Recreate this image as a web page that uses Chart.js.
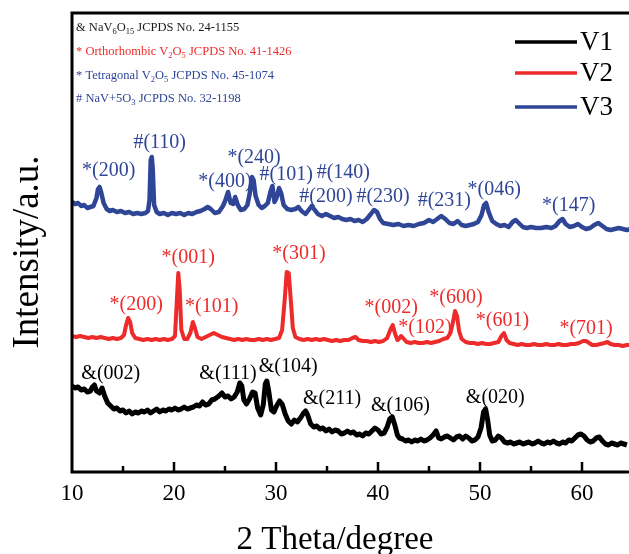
<!DOCTYPE html>
<html><head><meta charset="utf-8">
<script src="https://cdn.jsdelivr.net/npm/chart.js@4/dist/chart.umd.min.js"></script>
<style>
html,body{margin:0;padding:0;background:#fff;overflow:hidden;width:629px;height:554px}
#wrap{width:640px;height:554px;position:relative}
</style></head>
<body><div id="wrap"><canvas id="c" width="640" height="554"></canvas></div>
<script>
// ---------- data (2θ in degrees, intensity in a.u., series already offset) ----------
const v3Theta = [10.0,10.3,10.6,10.9,11.2,11.5,11.8,12.1,12.4,12.55,12.7,12.85,13.1,13.4,13.7,14.0,14.4,14.8,15.2,15.6,16.0,16.4,16.8,17.2,17.45,17.6,17.72,17.82,17.92,18.05,18.3,18.6,19.0,19.4,19.8,20.2,20.6,21.0,21.4,21.8,22.2,22.6,23.0,23.3,23.6,24.0,24.4,24.8,25.05,25.3,25.55,25.8,26.0,26.25,26.55,26.9,27.2,27.45,27.65,27.8,28.0,28.3,28.6,28.9,29.2,29.45,29.65,29.85,30.05,30.3,30.5,30.75,31.1,31.5,31.9,32.2,32.5,32.9,33.2,33.5,33.8,34.1,34.5,34.9,35.3,35.7,36.1,36.5,36.9,37.3,37.7,38.1,38.5,38.9,39.3,39.6,39.9,40.2,40.5,41.0,41.5,42.0,42.5,43.0,43.5,44.0,44.5,45.0,45.4,45.8,46.2,46.6,47.0,47.4,47.8,48.2,48.6,49.0,49.4,49.8,50.15,50.4,50.6,50.85,51.2,51.6,52.0,52.4,52.8,53.2,53.5,53.8,54.2,54.6,55.0,55.5,56.0,56.5,57.0,57.4,57.8,58.1,58.4,58.8,59.2,59.6,60.0,60.4,60.8,61.2,61.6,62.0,62.4,62.8,63.2,63.6,64.0,64.4,64.8,65.0];
const v3Intensity = [270,268,269,266,267,264,265,266,274,283,285,280,269,263,261,262,260,261,259,260,258,259,258,259,261,272,312,315,302,267,260,258,259,257,259,258,259,257,259,258,260,261,263,265,263,259,260,266,272,280,269,268,275,267,262,263,267,280,295,292,276,267,264,266,269,280,286,270,274,284,279,267,263,262,263,265,261,258,262,266,262,258,256,258,256,254,255,253,252,253,251,252,250,253,258,262,260,253,249,248,247,248,246,247,246,248,249,252,250,253,256,253,249,248,251,247,246,247,248,250,257,267,269,260,251,248,246,247,245,250,252,249,245,244,245,244,244,245,244,246,251,253,248,245,246,248,245,243,244,247,249,246,243,242,243,244,243,242,243,243];

const v2Theta = [10.0,10.4,10.8,11.2,11.6,12.0,12.4,12.8,13.2,13.6,14.0,14.4,14.8,15.1,15.3,15.5,15.7,15.9,16.2,16.6,17.0,17.4,17.8,18.2,18.6,19.0,19.4,19.8,20.1,20.28,20.42,20.56,20.72,21.0,21.3,21.6,21.85,22.05,22.3,22.7,23.1,23.5,23.9,24.3,24.7,25.1,25.5,25.9,26.3,26.7,27.1,27.5,27.9,28.3,28.7,29.1,29.5,29.9,30.3,30.6,30.85,31.05,31.25,31.45,31.65,31.9,32.3,32.7,33.1,33.5,33.9,34.3,34.7,35.1,35.5,35.9,36.3,36.7,37.1,37.5,37.8,38.1,38.5,38.9,39.3,39.7,40.1,40.5,40.9,41.2,41.45,41.65,41.9,42.05,42.25,42.45,42.8,43.2,43.6,44.0,44.4,44.8,45.2,45.6,46.0,46.4,46.8,47.1,47.35,47.55,47.75,47.95,48.2,48.6,49.0,49.4,49.8,50.2,50.6,51.0,51.4,51.8,52.1,52.35,52.6,52.9,53.3,53.7,54.1,54.5,54.9,55.3,55.7,56.1,56.5,56.9,57.3,57.7,58.1,58.5,58.9,59.3,59.7,60.1,60.4,60.7,61.0,61.4,61.8,62.2,62.5,62.8,63.2,63.6,64.0,64.4,64.8,65.0];
const v2Intensity = [136,135,136,135,134,135,134,135,134,133,134,133,134,137,147,154,150,139,134,133,132,133,132,133,132,133,132,133,136,172,199,182,142,133,133,139,150,144,135,133,135,137,139,137,135,134,133,132,133,132,133,132,132,133,132,133,132,133,134,142,172,200,199,172,144,135,133,132,133,132,133,132,133,132,131,132,131,132,132,134,135,132,131,131,130,131,130,131,134,142,147,139,132,133,136,134,130,129,130,129,129,130,129,130,131,133,134,139,150,161,156,141,133,130,129,129,128,129,128,128,129,130,136,139,132,129,128,127,128,127,127,128,127,127,128,127,127,128,127,127,128,128,129,131,131,129,127,127,128,129,130,128,127,127,126,127,127,127];

const v1Theta = [10.0,10.3,10.6,10.9,11.2,11.5,11.8,12.0,12.2,12.4,12.7,12.95,13.2,13.5,13.8,14.1,14.4,14.7,15.0,15.3,15.6,15.9,16.2,16.5,16.8,17.1,17.4,17.7,18.0,18.3,18.6,18.9,19.2,19.5,19.8,20.1,20.4,20.7,21.0,21.3,21.6,21.9,22.2,22.5,22.8,23.1,23.4,23.7,24.0,24.4,24.7,25.0,25.3,25.6,25.9,26.2,26.45,26.65,26.85,27.1,27.4,27.7,27.95,28.2,28.5,28.75,28.95,29.1,29.3,29.55,29.8,30.05,30.35,30.6,30.9,31.2,31.5,31.8,32.1,32.4,32.7,32.9,33.1,33.4,33.7,34.0,34.3,34.6,34.9,35.2,35.5,35.8,36.1,36.4,36.7,37.0,37.3,37.6,37.9,38.2,38.5,38.8,39.1,39.4,39.7,40.0,40.3,40.6,40.9,41.15,41.4,41.65,41.9,42.1,42.4,42.7,43.0,43.3,43.6,43.9,44.2,44.5,44.8,45.1,45.4,45.7,45.95,46.2,46.5,46.8,47.1,47.4,47.7,48.0,48.3,48.6,48.9,49.2,49.5,49.8,50.1,50.35,50.55,50.75,50.95,51.2,51.5,51.8,52.1,52.4,52.7,53.0,53.3,53.6,53.9,54.2,54.5,54.8,55.1,55.4,55.7,56.0,56.3,56.6,56.9,57.2,57.5,57.8,58.1,58.4,58.7,59.0,59.3,59.6,59.9,60.2,60.5,60.8,61.1,61.4,61.7,62.0,62.3,62.6,62.9,63.2,63.5,63.8,64.1,64.4,64.7,65.0];
const v1Intensity = [86,84,85,82,83,80,81,85,87,81,79,84,76,69,66,63,64,61,62,59,61,58,60,59,61,60,62,59,61,63,60,62,61,63,62,64,62,63,65,63,64,65,67,66,70,67,68,72,73,76,79,75,76,73,75,80,89,86,72,68,73,80,79,64,57,67,88,91,80,62,60,66,71,68,58,51,48,52,50,54,59,61,57,48,45,46,43,44,41,43,40,42,41,38,39,41,39,40,37,38,36,39,38,41,44,42,38,39,45,53,55,47,37,34,33,31,32,30,32,31,33,31,32,34,37,41,34,33,35,36,34,32,35,36,33,36,34,31,32,35,44,60,63,52,37,31,32,36,34,30,29,30,28,29,30,28,29,30,28,29,31,29,28,30,29,31,29,28,30,29,32,31,34,37,38,36,32,30,31,34,35,31,28,27,29,28,27,29,28,27];

const seriesNames = ['V1','V2','V3'];
const seriesColors = ['#000000','#ee2b2b','#2f4596'];

// peak labels
const v3LabelText = ['*(200)','#(110)','*(400)','*(240)','#(101)','#(140)','#(200)','#(230)','#(231)','*(046)','*(147)'];
const v3LabelTheta = [13.6,18.6,25.0,27.85,31.0,36.6,34.9,40.5,46.5,51.4,58.7];
const v3LabelIntensity = [301,329,290,314,297,299,275,275,271,282,266];

const v2LabelText = ['*(200)','*(001)','*(101)','*(301)','*(002)','*(102)','*(600)','*(601)','*(701)'];
const v2LabelTheta = [16.3,21.4,23.7,32.25,41.3,44.6,47.65,52.2,60.4];
const v2LabelIntensity = [167,214,165,218,164,144,174,151,143];

const v1LabelText = ['&(002)','&(111)','&(104)','&(211)','&(106)','&(020)'];
const v1LabelTheta = [13.8,25.3,31.2,35.5,42.2,51.5];
const v1LabelIntensity = [98,98,105,73,66,74];

// reference card notes: segments [text, subscript?]
const noteLines = [
  [['& NaV',0],['6',1],['O',0],['15',1],[' JCPDS No. 24-1155',0]],
  [['* Orthorhombic V',0],['2',1],['O',0],['5',1],[' JCPDS No. 41-1426',0]],
  [['* Tetragonal V',0],['2',1],['O',0],['5',1],[' JCPDS No. 45-1074',0]],
  [['# NaV+5O',0],['3',1],[' JCPDS No. 32-1198',0]]
];
const noteColors = ['#1a1a1a','#ee2b2b','#2f4596','#2f4596'];

const xTitle = '2 Theta/degree';
const yTitle = 'Intensity/a.u.';
const xTickValues = [10,20,30,40,50,60];

const SERIF = '"Liberation Serif","Times New Roman",serif';

function pts(xs, ys){ return xs.map((x,i)=>({x:x,y:ys[i]})); }

const overlay = {
  id:'overlay',
  afterDatasetsDraw(chart){
    const ctx = chart.ctx, xs = chart.scales.x, ys = chart.scales.y, a = chart.chartArea;
    ctx.save();
    // peak labels
    ctx.font = '20px ' + SERIF;
    ctx.textAlign = 'center'; ctx.textBaseline = 'middle';
    const groups = [[v1LabelText,v1LabelTheta,v1LabelIntensity,0],[v2LabelText,v2LabelTheta,v2LabelIntensity,1],[v3LabelText,v3LabelTheta,v3LabelIntensity,2]];
    groups.forEach(g=>{
      ctx.fillStyle = seriesColors[g[3]];
      g[0].forEach((t,i)=>ctx.fillText(t, xs.getPixelForValue(g[1][i]), ys.getPixelForValue(g[2][i])));
    });
    // frame
    ctx.strokeStyle = '#000'; ctx.lineWidth = 3; ctx.lineCap = 'square';
    ctx.beginPath();
    ctx.moveTo(a.right+10, a.top); ctx.lineTo(a.left, a.top); ctx.lineTo(a.left, a.bottom); ctx.lineTo(a.right+10, a.bottom);
    ctx.stroke();
    // inward ticks
    ctx.lineWidth = 2.5; ctx.lineCap = 'butt';
    for (let v = 15; v <= 65; v += 5) {
      const px = xs.getPixelForValue(v);
      const len = (v % 10 === 0) ? 10 : 6;
      ctx.beginPath(); ctx.moveTo(px, a.bottom); ctx.lineTo(px, a.bottom - len); ctx.stroke();
    }
    // notes
    const noteY = [28,52,76,99];
    ctx.textAlign = 'left'; ctx.textBaseline = 'middle';
    noteLines.forEach((line,li)=>{
      let x = 76;
      ctx.fillStyle = noteColors[li];
      line.forEach(seg=>{
        const sub = seg[1];
        ctx.font = (sub ? '8.5px ' : '12.5px ') + SERIF;
        ctx.fillText(seg[0], x, noteY[li] + (sub ? 4 : 0));
        x += ctx.measureText(seg[0]).width;
      });
    });
    // legend
    const legY = [42,73,107];
    chart.data.datasets.forEach((ds,i)=>{
      ctx.strokeStyle = ds.borderColor; ctx.lineWidth = 3.5;
      ctx.beginPath(); ctx.moveTo(515, legY[i]); ctx.lineTo(577, legY[i]); ctx.stroke();
      ctx.fillStyle = '#000'; ctx.font = '27px ' + SERIF;
      ctx.fillText(ds.label, 580, legY[i] + 1);
    });
    // axis titles
    ctx.fillStyle = '#000';
    ctx.font = '33px ' + SERIF; ctx.textAlign = 'center';
    ctx.fillText(xTitle, 335, 540);
    ctx.save();
    ctx.translate(28, 252); ctx.rotate(-Math.PI/2);
    ctx.font = '37px ' + SERIF;
    ctx.fillText(yTitle, 0, 0);
    ctx.restore();
    ctx.restore();
  }
};

new Chart(document.getElementById('c'), {
  type: 'line',
  data: {
    datasets: [
      {label: seriesNames[0], data: pts(v1Theta, v1Intensity), borderColor: seriesColors[0], borderWidth: 5},
      {label: seriesNames[1], data: pts(v2Theta, v2Intensity), borderColor: seriesColors[1], borderWidth: 4},
      {label: seriesNames[2], data: pts(v3Theta, v3Intensity), borderColor: seriesColors[2], borderWidth: 4.5}
    ]
  },
  options: {
    responsive: false, animation: false, devicePixelRatio: 1,
    layout: {padding: {top: 13, right: 7, left: 0, bottom: 0}},
    elements: {point: {radius: 0}, line: {tension: 0, borderJoinStyle: 'round', fill: false}},
    plugins: {legend: {display: false}, tooltip: {enabled: false}},
    scales: {
      x: {
        type: 'linear', min: 10, max: 65,
        grid: {display: false, drawTicks: false},
        border: {display: false},
        afterBuildTicks(s){ s.ticks = xTickValues.map(v=>({value:v})); },
        afterFit(s){ s.height = 82; },
        ticks: {font: {size: 23, family: SERIF}, color: '#000', padding: 8, autoSkip: false, maxRotation: 0}
      },
      y: {
        min: 0, max: 459,
        grid: {display: false, drawTicks: false},
        border: {display: false},
        ticks: {display: false},
        afterFit(s){ s.width = 72; }
      }
    }
  },
  plugins: [overlay]
});
</script>
</body></html>
